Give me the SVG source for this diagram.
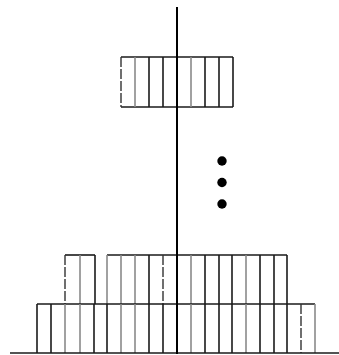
<svg xmlns="http://www.w3.org/2000/svg" width="339" height="355" viewBox="0 0 339 355">
<style>
.k{stroke:#1a1a1a;stroke-width:1.6;fill:none}
.g{stroke:#8a8a8a;stroke-width:1.6;fill:none}
.d{stroke:#333;stroke-width:1.4;fill:none;stroke-dasharray:10 2}
.h{stroke:#1a1a1a;stroke-width:1.6;fill:none}
.dot{fill:#000}
</style>
<rect width="339" height="355" fill="#fff"/>
<g id="top-block">
<line class="h" x1="121" y1="57" x2="233" y2="57"/>
<line class="h" x1="121" y1="107" x2="233" y2="107"/>
<line class="d" x1="121" y1="57" x2="121" y2="107"/>
<line class="g" x1="135" y1="57" x2="135" y2="107"/>
<line class="k" x1="149" y1="57" x2="149" y2="107"/>
<line class="k" x1="163" y1="57" x2="163" y2="107"/>
<line class="g" x1="191" y1="57" x2="191" y2="107"/>
<line class="k" x1="205" y1="57" x2="205" y2="107"/>
<line class="k" x1="219" y1="57" x2="219" y2="107"/>
<line class="k" x1="233" y1="57" x2="233" y2="107"/>
</g>
<g id="dots">
<circle class="dot" cx="222" cy="161" r="4.7"/>
<circle class="dot" cx="222" cy="182.5" r="4.7"/>
<circle class="dot" cx="222" cy="204" r="4.7"/>
</g>
<g id="upper-row">
<line class="h" x1="65" y1="255" x2="95" y2="255"/>
<line class="h" x1="107" y1="255" x2="287" y2="255"/>
<line class="d" x1="65" y1="255" x2="65" y2="304"/>
<line class="g" x1="80" y1="255" x2="80" y2="304"/>
<line class="k" x1="95" y1="255" x2="95" y2="304"/>
<line class="g" x1="107" y1="255" x2="107" y2="304"/>
<line class="g" x1="121" y1="255" x2="121" y2="304"/>
<line class="g" x1="135" y1="255" x2="135" y2="304"/>
<line class="k" x1="149" y1="255" x2="149" y2="304"/>
<line class="d" x1="163" y1="255" x2="163" y2="304"/>
<line class="g" x1="191" y1="255" x2="191" y2="304"/>
<line class="k" x1="205" y1="255" x2="205" y2="304"/>
<line class="k" x1="219" y1="255" x2="219" y2="304"/>
<line class="k" x1="232" y1="255" x2="232" y2="304"/>
<line class="g" x1="246" y1="255" x2="246" y2="304"/>
<line class="k" x1="260" y1="255" x2="260" y2="304"/>
<line class="k" x1="274" y1="255" x2="274" y2="304"/>
<line class="k" x1="287" y1="255" x2="287" y2="304"/>
</g>
<g id="lower-row">
<line class="h" x1="37" y1="304" x2="315" y2="304"/>
<line class="k" x1="37" y1="304" x2="37" y2="353"/>
<line class="k" x1="51" y1="304" x2="51" y2="353"/>
<line class="g" x1="65" y1="304" x2="65" y2="353"/>
<line class="g" x1="80" y1="304" x2="80" y2="353"/>
<line class="k" x1="94" y1="304" x2="94" y2="353"/>
<line class="k" x1="107" y1="304" x2="107" y2="353"/>
<line class="g" x1="121" y1="304" x2="121" y2="353"/>
<line class="g" x1="135" y1="304" x2="135" y2="353"/>
<line class="k" x1="149" y1="304" x2="149" y2="353"/>
<line class="k" x1="163" y1="304" x2="163" y2="353"/>
<line class="g" x1="191" y1="304" x2="191" y2="353"/>
<line class="k" x1="205" y1="304" x2="205" y2="353"/>
<line class="k" x1="219" y1="304" x2="219" y2="353"/>
<line class="k" x1="232" y1="304" x2="232" y2="353"/>
<line class="g" x1="246" y1="304" x2="246" y2="353"/>
<line class="k" x1="260" y1="304" x2="260" y2="353"/>
<line class="k" x1="274" y1="304" x2="274" y2="353"/>
<line class="k" x1="287" y1="304" x2="287" y2="353"/>
<line class="d" x1="301" y1="304" x2="301" y2="353"/>
<line class="g" x1="315" y1="304" x2="315" y2="353"/>
</g>
<g id="axes">
<line class="h" x1="10" y1="353" x2="339" y2="353"/>
<line stroke="#000" stroke-width="2" x1="177" y1="7" x2="177" y2="354"/>
</g>
</svg>
